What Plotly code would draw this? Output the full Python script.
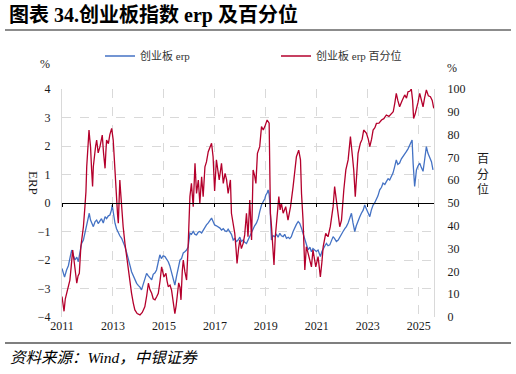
import plotly.graph_objects as go

# ---------------- data ----------------
erp_years = [
    2011.00, 2011.05, 2011.10, 2011.18, 2011.25, 2011.32, 2011.38, 2011.45, 2011.51, 2011.58,
    2011.64, 2011.70, 2011.77, 2011.84, 2011.90, 2011.97, 2012.03, 2012.07, 2012.12, 2012.18,
    2012.23, 2012.30, 2012.36, 2012.42, 2012.49, 2012.55, 2012.62, 2012.69, 2012.75, 2012.82,
    2012.88, 2012.94, 2012.97, 2013.02, 2013.08, 2013.14, 2013.21, 2013.27, 2013.34, 2013.40,
    2013.47, 2013.54, 2013.60, 2013.67, 2013.73, 2013.80, 2013.86, 2013.93, 2014.00, 2014.06,
    2014.12, 2014.18, 2014.25, 2014.32, 2014.38, 2014.45, 2014.52, 2014.58, 2014.65, 2014.71,
    2014.78, 2014.84, 2014.90, 2014.97, 2015.04, 2015.10, 2015.17, 2015.23, 2015.30, 2015.36,
    2015.43, 2015.50, 2015.56, 2015.63, 2015.69, 2015.76, 2015.82, 2015.89, 2015.95, 2016.02,
    2016.08, 2016.15, 2016.22, 2016.28, 2016.35, 2016.41, 2016.48, 2016.54, 2016.61, 2016.67,
    2016.74, 2016.80, 2016.87, 2016.93, 2016.99, 2017.06, 2017.13, 2017.20, 2017.26, 2017.33,
    2017.40, 2017.46, 2017.52, 2017.59, 2017.65, 2017.72, 2017.78, 2017.85, 2017.91, 2017.98,
    2018.04, 2018.11, 2018.17, 2018.24, 2018.30, 2018.37, 2018.44, 2018.50, 2018.56, 2018.63,
    2018.70, 2018.76, 2018.83, 2018.90, 2018.96, 2019.00, 2019.05, 2019.09, 2019.13, 2019.16,
    2019.19, 2019.22, 2019.28, 2019.35, 2019.42, 2019.48, 2019.55, 2019.61, 2019.68, 2019.74,
    2019.81, 2019.88, 2019.94, 2020.00, 2020.07, 2020.14, 2020.20, 2020.27, 2020.33, 2020.40,
    2020.46, 2020.53, 2020.60, 2020.66, 2020.73, 2020.79, 2020.85, 2020.92, 2020.98, 2021.05,
    2021.10, 2021.14, 2021.20, 2021.25, 2021.32, 2021.38, 2021.44, 2021.51, 2021.57, 2021.64,
    2021.70, 2021.77, 2021.84, 2021.90, 2021.97, 2022.03, 2022.10, 2022.16, 2022.23, 2022.30,
    2022.36, 2022.42, 2022.49, 2022.55, 2022.62, 2022.68, 2022.75, 2022.82, 2022.88, 2022.95,
    2023.01, 2023.08, 2023.14, 2023.21, 2023.27, 2023.34, 2023.40, 2023.47, 2023.54, 2023.60,
    2023.67, 2023.73, 2023.80, 2023.86, 2023.93, 2023.99, 2024.05, 2024.12, 2024.18, 2024.25,
    2024.32, 2024.39, 2024.45, 2024.52, 2024.58, 2024.65, 2024.70, 2024.74, 2024.78, 2024.84,
    2024.88, 2024.91, 2024.97, 2025.04, 2025.10, 2025.17, 2025.23, 2025.30, 2025.36, 2025.43,
    2025.50, 2025.56,
]
erp_values = [
    -2.30, -2.45, -2.60, -2.35, -2.20, -1.90, -1.65, -1.85, -2.00, -1.90,
    -2.06, -1.75, -1.42, -1.30, -1.06, -0.80, -0.50, -0.36, -0.60, -0.75,
    -0.83, -0.65, -0.60, -0.72, -0.62, -0.55, -0.70, -0.48, -0.55, -0.45,
    -0.42, -0.25, -0.07, -0.40, -0.71, -0.90, -1.06, -1.15, -1.24, -1.35,
    -1.53, -1.75, -2.00, -2.20, -2.41, -2.55, -2.70, -2.82, -2.90, -2.95,
    -3.05, -2.85, -2.70, -2.47, -2.55, -2.62, -2.70, -2.50, -2.45, -2.35,
    -2.10, -1.82, -1.95, -1.85, -1.88, -1.95, -2.06, -2.20, -2.41, -2.60,
    -2.88, -2.55, -2.23, -2.00, -1.95, -1.75, -1.71, -1.65, -1.55, -1.06,
    -1.10, -1.00, -1.10, -1.12, -1.02, -1.00, -1.05, -0.95, -0.88, -0.77,
    -0.70, -0.62, -0.53, -0.65, -0.77, -0.80, -0.83, -0.88, -0.95, -0.90,
    -0.98, -1.00, -0.92, -1.00, -1.10, -1.30, -1.25, -1.35, -1.30, -1.20,
    -1.35, -1.30, -1.38, -1.42, -1.30, -1.18, -1.05, -0.89, -0.80, -0.71,
    -0.55, -0.30, -0.07, 0.05, 0.15, 0.28, 0.35, 0.46, 0.30, 0.00,
    -0.80, -1.30, -1.15, -1.18, -1.10, -1.20, -1.06, -1.15, -1.18, -1.10,
    -1.24, -1.20, -1.25, -1.18, -1.00, -0.83, -0.75, -0.65, -0.71, -0.89,
    -1.05, -1.30, -1.45, -1.65, -1.55, -1.71, -1.60, -1.65, -1.70, -1.65,
    -1.75, -1.88, -1.70, -1.59, -1.50, -1.42, -1.50, -1.47, -1.35, -1.18,
    -1.25, -1.35, -1.30, -1.20, -1.06, -1.00, -0.90, -0.83, -0.70, -0.55,
    -0.36, -0.70, -1.00, -0.80, -0.60, -0.50, -0.36, -0.25, -0.07, -0.20,
    -0.30, -0.48, -0.25, -0.07, 0.00, 0.11, 0.25, 0.46, 0.55, 0.70,
    0.65, 0.75, 0.85, 0.81, 0.95, 1.05, 1.25, 1.51, 1.35, 1.40,
    1.55, 1.63, 1.70, 1.81, 1.90, 2.04, 2.15, 2.21, 1.40, 0.58,
    0.90, 1.16, 1.30, 1.40, 1.25, 1.11, 1.50, 1.98, 1.75, 1.57,
    1.45, 1.16,
]

pct_years = [
    2011.00, 2011.04, 2011.08, 2011.13, 2011.18, 2011.25, 2011.31, 2011.36, 2011.42, 2011.47,
    2011.51, 2011.55, 2011.58, 2011.63, 2011.68, 2011.74, 2011.79, 2011.84, 2011.90, 2011.94,
    2011.97, 2012.01, 2012.06, 2012.09, 2012.12, 2012.16, 2012.20, 2012.23, 2012.27, 2012.32,
    2012.36, 2012.42, 2012.49, 2012.54, 2012.58, 2012.63, 2012.69, 2012.72, 2012.75, 2012.82,
    2012.88, 2012.95, 2013.01, 2013.05, 2013.08, 2013.11, 2013.14, 2013.18, 2013.21, 2013.24,
    2013.27, 2013.30, 2013.34, 2013.40, 2013.47, 2013.54, 2013.60, 2013.67, 2013.73, 2013.80,
    2013.86, 2013.95, 2014.06, 2014.15, 2014.25, 2014.32, 2014.39, 2014.45, 2014.52, 2014.58,
    2014.65, 2014.72, 2014.78, 2014.85, 2014.91, 2015.00, 2015.08, 2015.12, 2015.17, 2015.24,
    2015.30, 2015.36, 2015.43, 2015.48, 2015.52, 2015.58, 2015.63, 2015.67, 2015.72, 2015.76,
    2015.82, 2015.89, 2015.95, 2016.02, 2016.08, 2016.15, 2016.22, 2016.28, 2016.35, 2016.41,
    2016.48, 2016.54, 2016.61, 2016.67, 2016.74, 2016.80, 2016.87, 2016.93, 2016.99, 2017.06,
    2017.11, 2017.17, 2017.26, 2017.33, 2017.40, 2017.46, 2017.52, 2017.61, 2017.65, 2017.72,
    2017.78, 2017.83, 2017.87, 2017.93, 2017.98, 2018.04, 2018.11, 2018.17, 2018.24, 2018.30,
    2018.37, 2018.44, 2018.50, 2018.56, 2018.61, 2018.67, 2018.76, 2018.83, 2018.90, 2018.96,
    2019.05, 2019.13, 2019.15, 2019.18, 2019.22, 2019.26, 2019.32, 2019.37, 2019.42, 2019.51,
    2019.56, 2019.61, 2019.68, 2019.78, 2019.87, 2019.97, 2020.07, 2020.14, 2020.20, 2020.29,
    2020.36, 2020.40, 2020.46, 2020.53, 2020.59, 2020.66, 2020.72, 2020.79, 2020.85, 2020.90,
    2020.96, 2021.05, 2021.10, 2021.14, 2021.20, 2021.25, 2021.35, 2021.44, 2021.53, 2021.60,
    2021.64, 2021.70, 2021.75, 2021.80, 2021.90, 2021.97, 2022.06, 2022.14, 2022.23, 2022.32,
    2022.40, 2022.45, 2022.51, 2022.57, 2022.62, 2022.71, 2022.78, 2022.84, 2022.95, 2023.02,
    2023.08, 2023.15, 2023.21, 2023.28, 2023.34, 2023.44, 2023.54, 2023.63, 2023.73, 2023.83,
    2023.93, 2024.00, 2024.06, 2024.12, 2024.18, 2024.25, 2024.35, 2024.45, 2024.52, 2024.58,
    2024.65, 2024.71, 2024.76, 2024.80, 2024.86, 2024.91, 2024.97, 2025.04, 2025.10, 2025.17,
    2025.23, 2025.30, 2025.38, 2025.46, 2025.53, 2025.59,
]
pct_values = [
    9.0, 5.0, 2.5, 8.0, 10.4, 13.0, 16.2, 22.0, 29.4, 25.0,
    22.0, 17.0, 14.8, 18.0, 19.2, 30.8, 35.0, 39.6, 48.4, 55.0,
    65.9, 75.0, 82.0, 78.0, 74.7, 65.0, 57.2, 66.0, 71.8, 75.0,
    77.6, 72.0, 74.7, 78.0, 79.8, 72.0, 65.2, 72.0, 77.6, 76.0,
    80.1, 82.7, 77.6, 70.0, 63.0, 55.0, 48.4, 45.0, 41.1, 52.0,
    60.1, 55.0, 48.4, 39.6, 32.3, 26.0, 20.6, 15.0, 10.4, 6.0,
    3.1, 1.5, 0.9, 2.0, 4.5, 9.0, 14.8, 12.0, 10.4, 8.0,
    7.5, 9.0, 10.4, 16.0, 22.0, 17.6, 19.2, 16.0, 13.3, 14.0,
    11.8, 7.0, 1.5, 5.0, 8.9, 15.0, 13.0, 7.5, 20.0, 25.0,
    20.0, 16.2, 30.8, 52.8, 58.6, 48.4, 67.4, 54.2, 60.1, 49.9,
    61.5, 52.8, 65.9, 68.0, 72.5, 74.0, 76.2, 70.3, 55.3, 68.9,
    64.0, 60.1, 67.4, 58.6, 63.0, 60.1, 54.2, 60.1, 45.5, 40.0,
    36.7, 30.0, 23.5, 30.0, 33.8, 30.0, 32.3, 36.0, 45.5, 35.2,
    51.3, 33.8, 64.5, 62.0, 58.6, 71.8, 74.7, 83.5, 82.0, 83.5,
    86.4, 85.0, 70.0, 45.5, 40.0, 33.8, 22.8, 35.0, 42.5, 52.8,
    47.0, 49.9, 45.5, 48.4, 42.5, 48.4, 57.2, 63.0, 70.3, 73.2,
    68.9, 54.2, 42.5, 20.6, 30.8, 27.9, 25.0, 22.0, 29.4, 25.0,
    22.0, 26.5, 22.0, 17.6, 24.0, 30.8, 36.7, 35.2, 39.6, 45.0,
    48.4, 57.2, 52.0, 48.4, 39.6, 42.5, 55.7, 64.5, 68.9, 79.1,
    70.3, 64.5, 52.8, 62.0, 71.8, 76.2, 78.0, 82.0, 80.6, 78.0,
    74.7, 78.0, 82.0, 83.0, 84.9, 85.0, 86.4, 87.0, 88.6, 88.0,
    89.3, 90.0, 93.7, 98.1, 95.0, 92.2, 95.0, 97.4, 96.0, 98.8,
    99.0, 100.0, 95.0, 87.1, 89.0, 90.8, 94.0, 98.1, 95.0, 92.2,
    96.0, 99.6, 97.0, 96.6, 95.0, 91.5,
]

year_ticks = [2011, 2013, 2015, 2017, 2019, 2021, 2023, 2025]
year_labels = [str(y) for y in year_ticks]
erp_ticks = [-4, -3, -2, -1, 0, 1, 2, 3, 4]
pct_ticks = [0, 10, 20, 30, 40, 50, 60, 70, 80, 90, 100]

title_text = "图表 34.创业板指数 erp 及百分位"
source_text = "资料来源：Wind，中银证券"
name_erp = "创业板 erp"
name_pct = "创业板 erp 百分位"

# ---------------- styling ----------------
SERIF = "Liberation Serif, Times New Roman, Noto Sans CJK SC, serif"
BLUE = "#4472C4"
RED = "#B4002C"
GRID = "#d9d9d9"
TXT = "#1a1a1a"
X_MAX = 2025.6
W, H = 516, 374
# plot-area edges in pixels
PL, PR, PT, PB = 62, 434, 89, 317

# with zero margins, paper coordinates span the whole figure
def cx(px):
    return px / W
def cy(py):
    return 1 - py / H

fig = go.Figure()

fig.add_trace(go.Scatter(
    x=erp_years, y=erp_values, name=name_erp, mode="lines",
    line=dict(color=BLUE, width=1.3), xaxis="x", yaxis="y", legend="legend",
))
fig.add_trace(go.Scatter(
    x=pct_years, y=pct_values, name=name_pct, mode="lines",
    line=dict(color=RED, width=1.3), xaxis="x", yaxis="y2", legend="legend2",
))
# invisible helper trace so the zero-line axis (x2) is drawn
fig.add_trace(go.Scatter(
    x=[year_ticks[0]], y=[0], mode="lines", showlegend=False,
    hoverinfo="skip", line=dict(color="rgba(0,0,0,0)"), xaxis="x2", yaxis="y",
))

# page rules (under the title, above the source note) drawn on a hidden
# full-page pixel frame (x3/y3)
for rule_y, rule_color, rule_w in [(30, "#8c8c8c", 2), (343, "#000000", 1.2)]:
    fig.add_trace(go.Scatter(
        x=[5, 511], y=[rule_y, rule_y], mode="lines", showlegend=False,
        hoverinfo="skip", line=dict(color=rule_color, width=rule_w),
        xaxis="x3", yaxis="y3", cliponaxis=False,
    ))

leg_common = dict(
    orientation="h", xref="paper", yref="paper",
    xanchor="left", yanchor="middle",
    font=dict(size=11, color="#333", family=SERIF),
    itemwidth=30, bgcolor="rgba(0,0,0,0)", borderwidth=0,
)

zero_pos = cy(PT + (PB - PT) / 2)

fig.update_layout(
    width=W, height=H,
    margin=dict(l=0, r=0, t=0, b=0, pad=0, autoexpand=False),
    paper_bgcolor="white", plot_bgcolor="rgba(0,0,0,0)",
    font=dict(family=SERIF, size=12, color=TXT),
    showlegend=True,
    legend=dict(x=cx(100), y=cy(56), **leg_common),
    legend2=dict(x=cx(276), y=cy(56), **leg_common),
    xaxis=dict(
        domain=[cx(PL), cx(PR)], anchor="y",
        range=[2011, X_MAX], tickvals=year_ticks, ticktext=year_labels,
        showgrid=True, gridcolor=GRID, griddash="dash", gridwidth=1,
        showline=False, ticks="", zeroline=False,
        tickfont=dict(size=12, color=TXT),
    ),
    xaxis2=dict(
        domain=[cx(PL), cx(PR)],
        range=[2011, X_MAX], tickvals=year_ticks, overlaying="x",
        anchor="free", position=zero_pos, side="bottom",
        showline=True, linecolor="black", linewidth=1.3,
        ticks="outside", ticklen=3, tickcolor="black", tickwidth=1,
        showticklabels=False, showgrid=False, zeroline=False,
    ),
    yaxis=dict(
        domain=[cy(PB), cy(PT)], anchor="x",
        range=[-4, 4], tickvals=erp_ticks,
        showgrid=True, gridcolor=GRID, griddash="dash", gridwidth=1,
        showline=True, linecolor=GRID, linewidth=1,
        zeroline=False, ticks="", ticklabelstandoff=8,
        tickfont=dict(size=12, color=TXT),
    ),
    yaxis2=dict(
        range=[0, 100], tickvals=pct_ticks, overlaying="y", side="right", anchor="x",
        showgrid=False, showline=True, linecolor=GRID, linewidth=1,
        zeroline=False, ticks="", ticklabelstandoff=10,
        tickfont=dict(size=12, color=TXT),
    ),
    xaxis3=dict(domain=[0, 1], range=[0, W], anchor="y3", visible=False,
                fixedrange=True),
    yaxis3=dict(domain=[0, 1], range=[H, 0], anchor="x3", visible=False,
                fixedrange=True),
)

annotations = [
    dict(text="<b>" + title_text + "</b>", x=cx(7), y=cy(15), xref="paper", yref="paper",
         xanchor="left", yanchor="middle", showarrow=False,
         font=dict(size=20, color="black", family=SERIF)),
    dict(text="<i>" + source_text + "</i>", x=cx(8), y=cy(357), xref="paper", yref="paper",
         xanchor="left", yanchor="middle", showarrow=False,
         font=dict(size=15.5, color="black", family=SERIF)),
    dict(text="%", x=cx(45), y=cy(64), xref="paper", yref="paper",
         xanchor="center", yanchor="middle", showarrow=False,
         font=dict(size=12, color=TXT)),
    dict(text="%", x=cx(452), y=cy(68), xref="paper", yref="paper",
         xanchor="center", yanchor="middle", showarrow=False,
         font=dict(size=12, color=TXT)),
    dict(text="ERP", x=cx(33), y=cy(183), xref="paper", yref="paper",
         xanchor="center", yanchor="middle", showarrow=False, textangle=90,
         font=dict(size=13, color=TXT)),
    dict(text="百<br>分<br>位", x=cx(483), y=cy(174), xref="paper", yref="paper",
         xanchor="center", yanchor="middle", showarrow=False,
         font=dict(size=12, color=TXT)),
]
fig.update_layout(annotations=annotations)

fig.write_html(
    "out.html",
    config={"displayModeBar": False},
    post_script="document.body.style.margin='0';document.body.style.overflow='hidden';",
)
